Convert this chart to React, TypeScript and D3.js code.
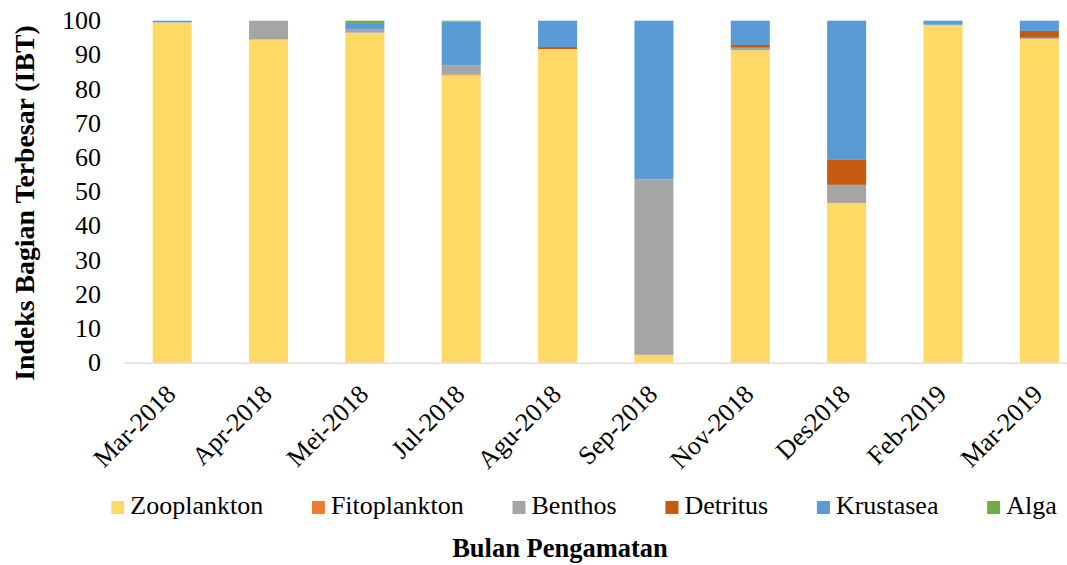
import React, { useEffect, useRef } from "react";
import * as d3 from "d3";

const categories = ["Mar-2018", "Apr-2018", "Mei-2018", "Jul-2018", "Agu-2018", "Sep-2018", "Nov-2018", "Des2018", "Feb-2019", "Mar-2019"];
const seriesNames = ["Zooplankton", "Fitoplankton", "Benthos", "Detritus", "Krustasea", "Alga"];
const seriesColors = ["#FFD966", "#ED7D31", "#A5A5A5", "#C55A11", "#5B9BD5", "#70AD47"];

const zooplankton = [99.5, 94.5, 96.5, 84.0, 91.7, 2.3, 91.4, 46.7, 98.8, 94.7];
const fitoplankton = [0, 0, 0, 0.3, 0, 0, 0, 0, 0, 0];
const benthos = [0, 5.5, 0.9, 2.7, 0, 51.3, 0.7, 5.3, 0, 0.3];
const detritus = [0, 0, 0, 0, 0.6, 0, 0.8, 7.3, 0, 2.0];
const krustasea = [0.5, 0, 1.9, 12.8, 7.7, 46.4, 7.1, 40.7, 1.2, 3.0];
const alga = [0, 0, 0.7, 0.2, 0, 0, 0, 0, 0, 0];

const yTicks = [0, 10, 20, 30, 40, 50, 60, 70, 80, 90, 100];

const W = 1067;
const H = 565;
const FONT = "Times New Roman, Liberation Serif, Tinos, DejaVu Serif, serif";

export default function App() {
  const ref = useRef<SVGSVGElement>(null);

  useEffect(() => {
    const svg = d3.select(ref.current);
    svg.selectAll("*").remove();
    svg.style("font-family", FONT);

    const seriesValues = [zooplankton, fitoplankton, benthos, detritus, krustasea, alga];
    const rows = categories.map((c, i) => {
      const r: any = { cat: c };
      seriesNames.forEach((s, j) => (r[s] = seriesValues[j][i]));
      return r;
    });
    const stacked = d3.stack().keys(seriesNames)(rows);

    const x = d3.scaleBand().domain(categories).range([124, 1087.5]).paddingInner(0.595).paddingOuter(0.2975);
    const y = d3.scaleLinear().domain([0, 100]).range([362.7, 20.7]);

    const g = svg.append("g");
    stacked.forEach((layer, j) => {
      g.append("g")
        .attr("fill", seriesColors[j])
        .selectAll("rect")
        .data(layer)
        .join("rect")
        .attr("x", (d: any) => x(d.data.cat)!)
        .attr("width", x.bandwidth())
        .attr("y", (d: any) => y(d[1]))
        .attr("height", (d: any) => Math.max(0, y(d[0]) - y(d[1])));
    });

    svg.append("line")
      .attr("x1", 124).attr("x2", W)
      .attr("y1", y(0) + 0.5).attr("y2", y(0) + 0.5)
      .attr("stroke", "#D9D9D9").attr("stroke-width", 1.3);

    svg.append("g")
      .selectAll("text")
      .data(yTicks)
      .join("text")
      .attr("x", 101)
      .attr("y", (d) => y(d) + 8.5)
      .attr("text-anchor", "end")
      .style("font-family", FONT)
      .attr("font-size", 26)
      .attr("fill", "#000")
      .text((d) => d);

    svg.append("g")
      .selectAll("text")
      .data(categories)
      .join("text")
      .attr("transform", (d) => `translate(${x(d)! + x.bandwidth() / 2 + 5},${y(0) + 33}) rotate(-45)`)
      .attr("text-anchor", "end")
      .style("font-family", FONT)
      .attr("font-size", 26)
      .attr("fill", "#000")
      .text((d) => d);

    svg.append("text")
      .attr("transform", `translate(34,203) rotate(-90)`)
      .attr("text-anchor", "middle")
      .style("font-family", FONT)
      .attr("font-size", 27.8)
      .attr("font-weight", "bold")
      .attr("fill", "#000")
      .text("Indeks Bagian Terbesar (IBT)");

    svg.append("text")
      .attr("x", 560)
      .attr("y", 556.5)
      .attr("text-anchor", "middle")
      .style("font-family", FONT)
      .attr("font-size", 26.5)
      .attr("font-weight", "bold")
      .attr("fill", "#000")
      .text("Bulan Pengamatan");

    const leg = svg.append("g");
    const items = leg.selectAll("g").data(seriesNames).join("g");
    items.append("rect")
      .attr("width", 13).attr("height", 13)
      .attr("y", 501)
      .attr("fill", (_d, i) => seriesColors[i]);
    items.append("text")
      .attr("x", 19)
      .attr("y", 514)
      .style("font-family", FONT)
      .attr("font-size", 26)
      .attr("fill", "#000")
      .text((d) => d);
    let cx = 0;
    const gap = 48.7;
    const offsets: number[] = [];
    items.each(function () {
      const t = d3.select(this).select("text").node() as SVGTextElement;
      offsets.push(cx);
      cx += 19 + t.getComputedTextLength() + gap;
    });
    const total = cx - gap;
    const start = 584 - total / 2;
    items.attr("transform", (_d, i) => `translate(${start + offsets[i]},0)`);
  }, []);

  return (
    <div style={{ position: "absolute", left: 0, top: 0 }}>
      <svg ref={ref} width={W} height={H} style={{ display: "block", background: "#fff", fontFamily: FONT }} />
    </div>
  );
}
